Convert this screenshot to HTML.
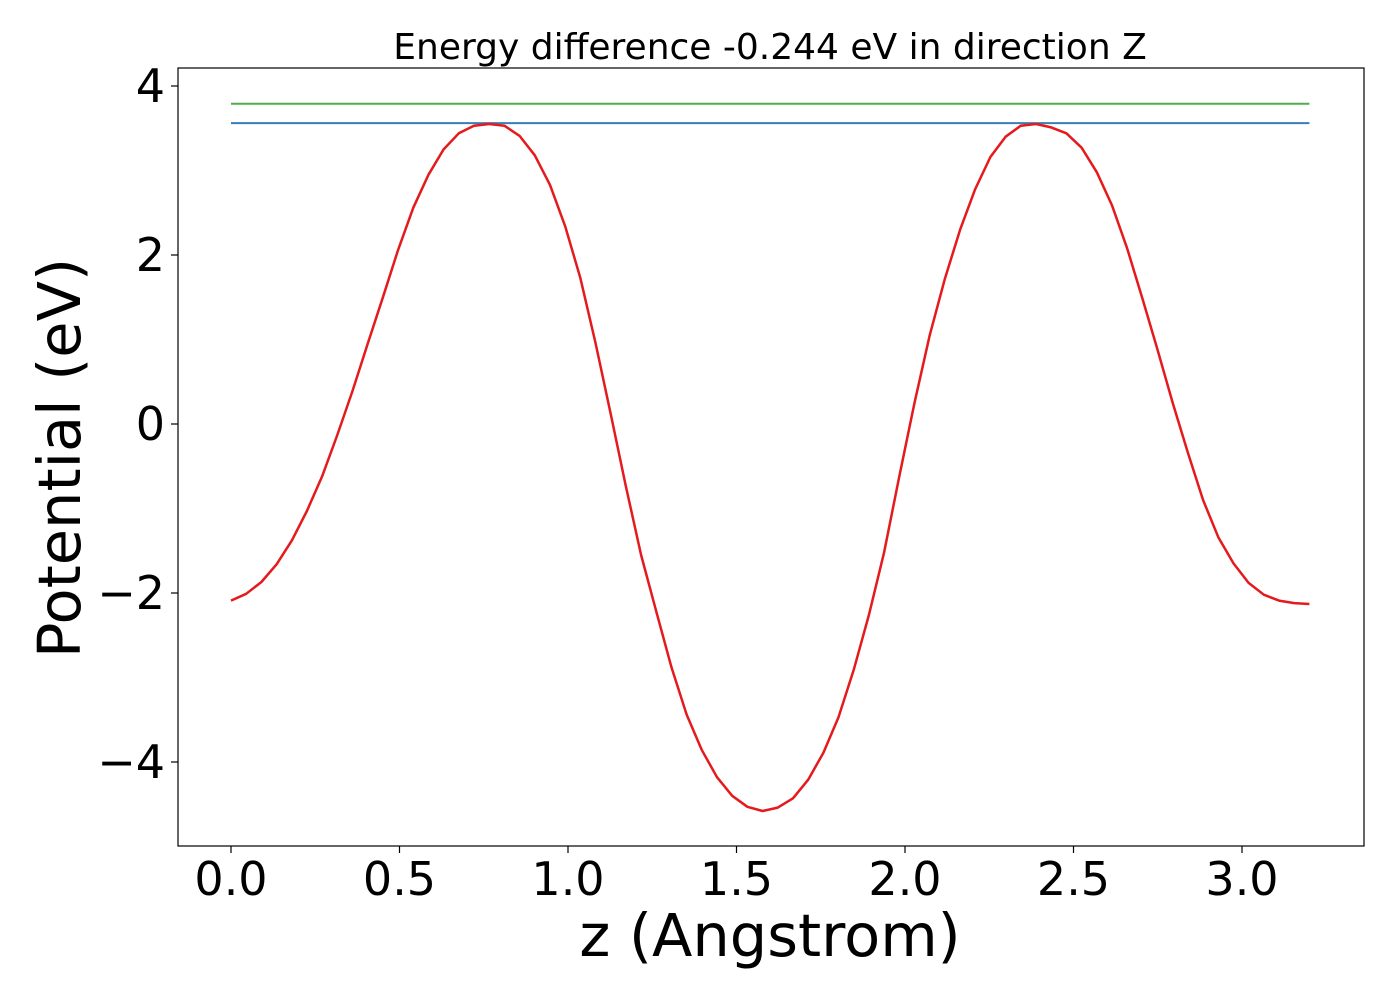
<!DOCTYPE html>
<html><head><meta charset="utf-8"><style>
html,body{margin:0;padding:0;background:#fff;}
svg{display:block;font-family:"DejaVu Sans","Liberation Sans",sans-serif;}
</style></head><body>
<svg id="chart" width="1400" height="1000" xmlns="http://www.w3.org/2000/svg">
<rect x="0" y="0" width="1400" height="1000" fill="#fff"/>
<text x="770" y="59" font-size="36" text-anchor="middle">Energy difference -0.244 eV in direction Z</text>
<g id="plot"></g>
<rect x="178" y="68" width="1186" height="778" fill="none" stroke="#000" stroke-width="1.2"/>
<text x="770" y="956" font-size="59" text-anchor="middle">z (Angstrom)</text>
<text transform="translate(80,458) rotate(-90)" font-size="59" text-anchor="middle">Potential (eV)</text>
</svg>
<script>
const potential = [-2.09,-2.01,-1.87,-1.66,-1.38,-1.03,-0.62,-0.13,0.39,0.95,1.50,2.06,2.56,2.95,3.25,3.44,3.53,3.55,3.53,3.41,3.18,2.83,2.34,1.73,0.96,0.12,-0.74,-1.55,-2.22,-2.88,-3.44,-3.86,-4.18,-4.40,-4.53,-4.58,-4.54,-4.43,-4.21,-3.89,-3.47,-2.91,-2.26,-1.52,-0.62,0.25,1.05,1.72,2.30,2.78,3.16,3.40,3.53,3.55,3.51,3.44,3.27,2.98,2.59,2.08,1.49,0.88,0.25,-0.34,-0.90,-1.34,-1.65,-1.88,-2.02,-2.09,-2.12,-2.13];
const zStart = 0, zEnd = 3.2;
const levelGreen = [3.79];
const levelBlue = [3.56];
const xTicks = [0,0.5,1.0,1.5,2.0,2.5,3.0];
const xTickLabels = ["0.0","0.5","1.0","1.5","2.0","2.5","3.0"];
const yTicks = [-4,-2,0,2,4];
const yTickLabels = ["\u22124","\u22122","0","2","4"];

const X = v => 231 + v*337;
const Y = v => 424 - v*84.5;
const NS = "http://www.w3.org/2000/svg";
const plot = document.getElementById('plot');
const svg = document.getElementById('chart');
function mk(tag, attrs, parent){const e=document.createElementNS(NS,tag);for(const k in attrs)e.setAttribute(k,attrs[k]);(parent||plot).appendChild(e);return e;}

const n = potential.length;
const zs = potential.map((_,i)=> zStart + i*(zEnd-zStart)/(n-1));

const g = mk('line',{x1:X(zStart),x2:X(zEnd),y1:Y(levelGreen[0]),y2:Y(levelGreen[0]),stroke:'#4daf4a','stroke-width':2});


const b = mk('line',{x1:X(zStart),x2:X(zEnd),y1:Y(levelBlue[0]),y2:Y(levelBlue[0]),stroke:'#377eb8','stroke-width':2});



const pts = potential.map((v,i)=>X(zs[i]).toFixed(1)+','+Y(v).toFixed(1)).join(' ');
const line = mk('polyline',{points:pts,fill:'none',stroke:'#e41a1c','stroke-width':2.5,'stroke-linejoin':'round'});



xTicks.forEach((t,i)=>{
  const tk = mk('line',{x1:X(t),x2:X(t),y1:846,y2:853,stroke:'#000','stroke-width':1.2},svg);
  
  
  const tl = mk('text',{x:X(t),y:895,'font-size':46,'text-anchor':'middle'},svg);
  tl.textContent = xTickLabels[i];
  
  
});
yTicks.forEach((t,i)=>{
  const tk = mk('line',{x1:171,x2:178,y1:Y(t),y2:Y(t),stroke:'#000','stroke-width':1.2},svg);
  
  
  const tl = mk('text',{x:165,y:Y(t)+16,'font-size':46,'text-anchor':'end'},svg);
  tl.textContent = yTickLabels[i];
  
  
});
</script>
</body></html>
